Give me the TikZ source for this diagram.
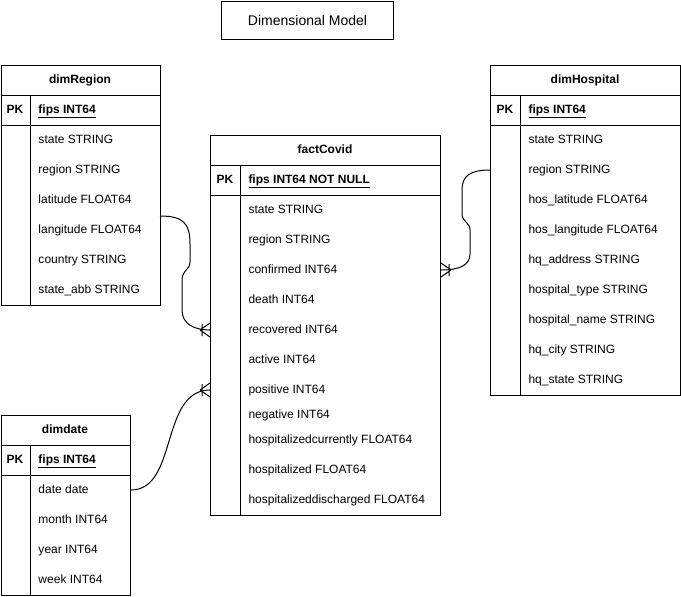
\documentclass[tikz,border=0pt]{standalone}
\usepackage{fontspec}
\setmainfont{Liberation Sans}
\begin{document}
\begin{tikzpicture}[x=0.75pt,y=-0.75pt,line width=0.75pt,
  font=\fontsize{9}{11}\selectfont,
  tbl/.style={draw,anchor=north west,inner sep=0pt},
  hdr/.style={font=\fontsize{9}{11}\selectfont\bfseries,inner sep=0pt,text height=6.5pt,text depth=1.9pt},
  pk/.style={font=\fontsize{9}{11}\selectfont\bfseries,inner sep=0pt,text height=6.5pt,text depth=1.9pt},
  fld/.style={anchor=west,inner sep=0pt,text height=6.5pt,text depth=1.9pt},
  conn/.style={line width=0.75pt}]
\useasboundingbox (0,0) rectangle (681,596);

% title
\node[draw,minimum width=129pt,minimum height=28.5pt,inner sep=0pt,anchor=north west,
  font=\fontsize{10.5}{12}\selectfont] (title) at (221,1) {Dimensional Model};

% ---------- dimRegion ----------
\node[tbl,minimum width=119.5pt,minimum height=180pt] (dimRegion) at (0.5,65) {};
\draw (0.5,95) -- (160,95) (0.5,125) -- (160,125) (30,95) -- (30,305);
\node[hdr] (rT) at (80,80) {dimRegion};
\node[pk] (rPK) at (15,110) {PK};
\node[pk,fld] (rKey) at (38,110) {\underline{fips INT64}};
\node[fld] (rState) at (38,140) {state STRING};
\node[fld] (rRegion) at (38,170) {region STRING};
\node[fld] (rLat) at (38,200) {latitude FLOAT64};
\node[fld] (rLon) at (38,230) {langitude FLOAT64};
\node[fld] (rCountry) at (38,260) {country STRING};
\node[fld] (rAbb) at (38,290) {state\_abb STRING};

% ---------- factCovid ----------
\node[tbl,minimum width=172.5pt,minimum height=285pt] (factCovid) at (210,135) {};
\draw (210,165) -- (440,165) (210,195) -- (440,195) (240,165) -- (240,515);
\node[hdr] (fT) at (325,150) {factCovid};
\node[pk] (fPK) at (225,180) {PK};
\node[pk,fld] (fKey) at (248,180) {\underline{fips INT64 NOT NULL}};
\node[fld] (fState) at (248,210) {state STRING};
\node[fld] (fRegion) at (248,240) {region STRING};
\node[fld] (fConf) at (248,270) {confirmed INT64};
\node[fld] (fDeath) at (248,300) {death INT64};
\node[fld] (fRec) at (248,330) {recovered INT64};
\node[fld] (fAct) at (248,360) {active INT64};
\node[fld] (fPos) at (248,390) {positive INT64};
\node[fld] (fNeg) at (248,415) {negative INT64};
\node[fld] (fHC) at (248,440) {hospitalizedcurrently FLOAT64};
\node[fld] (fH) at (248,470) {hospitalized FLOAT64};
\node[fld] (fHD) at (248,500) {hospitalizeddischarged FLOAT64};

% ---------- dimHospital ----------
\node[tbl,minimum width=142.5pt,minimum height=247.5pt] (dimHospital) at (490,65) {};
\draw (490,95) -- (680,95) (490,125) -- (680,125) (520,95) -- (520,395);
\node[hdr] (hT) at (585,80) {dimHospital};
\node[pk] (hPK) at (505,110) {PK};
\node[pk,fld] (hKey) at (528,110) {\underline{fips INT64}};
\node[fld] (hState) at (528,140) {state STRING};
\node[fld] (hRegion) at (528,170) {region STRING};
\node[fld] (hLat) at (528,200) {hos\_latitude FLOAT64};
\node[fld] (hLon) at (528,230) {hos\_langitude FLOAT64};
\node[fld] (hAddr) at (528,260) {hq\_address STRING};
\node[fld] (hType) at (528,290) {hospital\_type STRING};
\node[fld] (hName) at (528,320) {hospital\_name STRING};
\node[fld] (hCity) at (528,350) {hq\_city STRING};
\node[fld] (hSt) at (528,380) {hq\_state STRING};

% ---------- dimdate ----------
\node[tbl,minimum width=97.125pt,minimum height=135pt] (dimdate) at (0.5,415) {};
\draw (0.5,445) -- (130,445) (0.5,475) -- (130,475) (30,445) -- (30,595);
\node[hdr] (dT) at (65,430) {dimdate};
\node[pk] (dPK) at (15,460) {PK};
\node[pk,fld] (dKey) at (38,460) {\underline{fips INT64}};
\node[fld] (dDate) at (38,490) {date date};
\node[fld] (dMonth) at (38,520) {month INT64};
\node[fld] (dYear) at (38,550) {year INT64};
\node[fld] (dWeek) at (38,580) {week INT64};

% ---------- connectors ----------
\coordinate (c1) at (160,216);
\coordinate (e1) at (factCovid.west |- fRec);
\draw[conn] (c1) .. controls (184,216) and (190,224) .. (190,244) -- (190,262)
  .. controls (190,270) and (182,270) .. (182,280) -- (182,310)
  .. controls (182,324) and (194,330) .. (e1);
\draw[conn] (e1) ++(-10,0) -- ++(10,-7) (e1) ++(-10,0) -- ++(10,7)
  (e1) ++(-8,-6) -- ++(0,12);

\coordinate (s2) at (dimdate.east |- dDate);
\coordinate (e2) at (factCovid.west |- fPos);
\draw[conn] (s2) .. controls (178,490) and (160,390) .. (e2);
\draw[conn] (e2) ++(-10,0) -- ++(10,-7) (e2) ++(-10,0) -- ++(10,7)
  (e2) ++(-8,-6) -- ++(0,12);

\coordinate (s3) at (dimHospital.west |- hRegion);
\coordinate (e3) at (factCovid.east |- fConf);
\draw[conn] (s3) .. controls (470,170) and (462,176) .. (462,190) -- (462,214)
  .. controls (462,222) and (470,222) .. (470,230) -- (470,254)
  .. controls (470,265) and (460,270) .. (e3);
\draw[conn] (e3) ++(10,0) -- ++(-10,-7) (e3) ++(10,0) -- ++(-10,7)
  (e3) ++(8,-6) -- ++(0,12);
\end{tikzpicture}
\end{document}
